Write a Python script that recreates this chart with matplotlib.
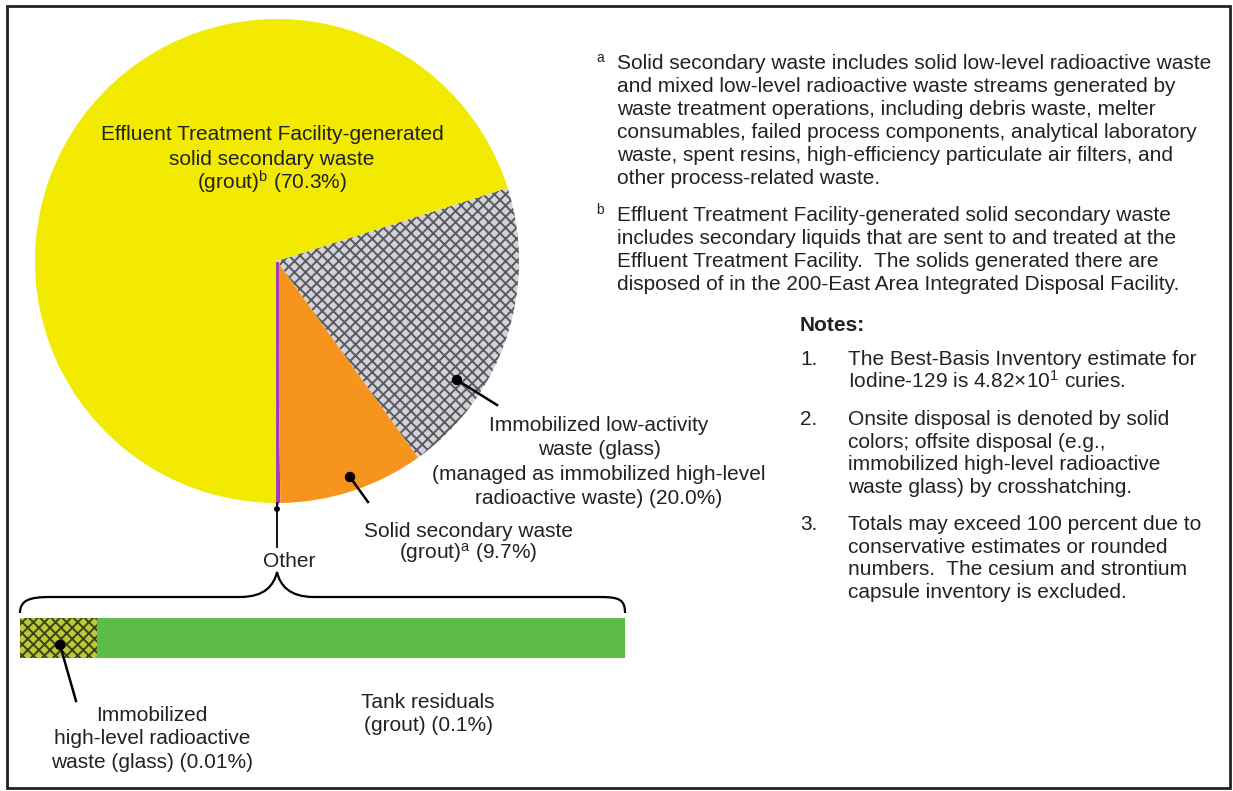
import matplotlib
matplotlib.use("Agg")
import matplotlib.pyplot as plt
from matplotlib.path import Path
from matplotlib.patches import PathPatch, Rectangle, Circle

# ---------------- data ----------------
pie_names = ["Other", "Solid secondary waste", "Immobilized low-activity waste", "ETF solid secondary waste"]
pie_values = [0.11, 9.7, 20.0, 70.3]
pie_colors = ["#9933CC", "#F7941E", "#D2D2DC", "#F2EA00"]
pie_hatches = [None, None, "xxx", None]

other_names = ["Immobilized high-level radioactive waste (glass)", "Tank residuals (grout)"]
other_values = [0.014, 0.096]
other_colors = ["#BCC83C", "#5DBB47"]
other_hatches = ["xxx", None]

label_etf = ["Effluent Treatment Facility-generated", "solid secondary waste",
             "(grout)$^{\\mathrm{b}}$ (70.3%)"]
label_ilaw = ["Immobilized low-activity", "waste (glass)",
              "(managed as immobilized high-level", "radioactive waste) (20.0%)"]
label_ssw = ["Solid secondary waste", "(grout)$^{\\mathrm{a}}$ (9.7%)"]
label_other = ["Other"]
label_ihlw = ["Immobilized", "high-level radioactive", "waste (glass) (0.01%)"]
label_tank = ["Tank residuals", "(grout) (0.1%)"]

foot_a = ["Solid secondary waste includes solid low-level radioactive waste",
          "and mixed low-level radioactive waste streams generated by",
          "waste treatment operations, including debris waste, melter",
          "consumables, failed process components, analytical laboratory",
          "waste, spent resins, high-efficiency particulate air filters, and",
          "other process-related waste."]
foot_b = ["Effluent Treatment Facility-generated solid secondary waste",
          "includes secondary liquids that are sent to and treated at the",
          "Effluent Treatment Facility.  The solids generated there are",
          "disposed of in the 200-East Area Integrated Disposal Facility."]
notes = [
    ["The Best-Basis Inventory estimate for", "Iodine-129 is 4.82\u00d710$^{1}$ curies."],
    ["Onsite disposal is denoted by solid", "colors; offsite disposal (e.g.,",
     "immobilized high-level radioactive", "waste glass) by crosshatching."],
    ["Totals may exceed 100 percent due to", "conservative estimates or rounded",
     "numbers.  The cesium and strontium", "capsule inventory is excluded."],
]

# ---------------- style ----------------
plt.rcParams["font.family"] = ["Liberation Sans", "DejaVu Sans"]
plt.rcParams["mathtext.fontset"] = "custom"
plt.rcParams["mathtext.rm"] = "Liberation Sans"
plt.rcParams["mathtext.it"] = "Liberation Sans:italic"
plt.rcParams["mathtext.bf"] = "Liberation Sans:bold"
plt.rcParams["hatch.linewidth"] = 1.4

W, H = 1233, 791
fig = plt.figure(figsize=(W / 100, H / 100), dpi=100)
fig.patch.set_facecolor("white")
ax = fig.add_axes([0, 0, 1, 1])


def P(x, y):
    return x, H - y


FS = 15
TXT = "#222222"


def lines(x, y0, step, texts, ha="center", fontweight="normal", fontsize=FS):
    for i, t in enumerate(texts):
        ax.text(*P(x, y0 + i * step), t, ha=ha, va="baseline", fontsize=fontsize,
                color=TXT, fontweight=fontweight, zorder=8)


# ---------------- pie ----------------
wedges, _ = ax.pie(pie_values, colors=pie_colors, startangle=-89.6, counterclock=True,
                   center=P(277, 261), radius=242, wedgeprops=dict(linewidth=0))
for w, h in zip(wedges, pie_hatches):
    if h:
        w.set_hatch(h)
        w.set_edgecolor("#5A5A5A")
        w.set_linewidth(0)
ax.plot(*zip(P(277, 263), P(277, 503)), color="#9933CC", lw=2, zorder=3)

ax.set_xlim(0, W)
ax.set_ylim(0, H)
ax.set_aspect("auto")
ax.axis("off")

# pie labels
lines(272, 140, 25, label_etf)
lines(599, 431, 24.4, label_ilaw)
lines(468, 537, 22, label_ssw)
lines(289, 567, 0, label_other)


# leader lines with dots
def leader(x0, y0, x1, y1):
    ax.plot(*zip(P(x0, y0), P(x1, y1)), color="black", lw=1.8, zorder=5)
    ax.add_patch(Circle(P(x0, y0), 4.5, color="black", zorder=6))


leader(457, 380, 497, 405)
leader(350, 477, 368, 502)
leader(60, 645, 76, 701)

# line from "other" wedge down to label
ax.plot(*zip(P(277, 503), P(277, 547)), color="black", lw=1.3, zorder=4)
ax.add_patch(Circle(P(277, 509), 2.2, color="black", zorder=6))

# brace
verts = [P(20, 613), P(20, 600), P(30, 597), P(50, 597),
         P(240, 597),
         P(265, 597), P(274, 585), P(277, 572),
         P(280, 585), P(289, 597), P(314, 597),
         P(600, 597),
         P(620, 597), P(625, 600), P(625, 613)]
codes = [Path.MOVETO, Path.CURVE4, Path.CURVE4, Path.CURVE4,
         Path.LINETO,
         Path.CURVE4, Path.CURVE4, Path.CURVE4,
         Path.CURVE4, Path.CURVE4, Path.CURVE4,
         Path.LINETO,
         Path.CURVE4, Path.CURVE4, Path.CURVE4]
ax.add_patch(PathPatch(Path(verts, codes), facecolor="none", edgecolor="black", lw=1.6, zorder=4))

# ---------------- "Other" bar ----------------
bx0, bx1, by0, by1 = 20, 625, 618, 658
bax = fig.add_axes([bx0 / W, (H - by1) / H, (bx1 - bx0) / W, (by1 - by0) / H])
left = 0
for v, c, h in zip(other_values, other_colors, other_hatches):
    b = bax.barh(0, v, left=left, height=1, color=c, linewidth=0)
    if h:
        b[0].set_hatch(h)
        b[0].set_edgecolor("#3B4512")
        b[0].set_linewidth(0)
    left += v
bax.set_xlim(0, sum(other_values))
bax.set_ylim(-0.5, 0.5)
bax.axis("off")
ax.set_zorder(2)
ax.patch.set_visible(False)

lines(152, 721, 23.5, label_ihlw)
lines(428, 708, 23, label_tank)

# ---------------- footnotes ----------------
ax.text(*P(596, 62), "a", ha="left", va="baseline", fontsize=10, color=TXT)
lines(617, 69, 23, foot_a, ha="left")
ax.text(*P(596, 214), "b", ha="left", va="baseline", fontsize=10, color=TXT)
lines(617, 221, 23, foot_b, ha="left")

lines(800, 331, 0, ["Notes:"], ha="left", fontweight="bold")
note_y = [365, 425, 530]
for i, (t, y) in enumerate(zip(notes, note_y)):
    lines(800, y, 0, [f"{i + 1}."], ha="left")
    lines(848, y, 22.7, t, ha="left")

# ---------------- frame ----------------
ax.add_patch(Rectangle(P(7, 788), 1223, 782, facecolor="none", edgecolor="#222222", lw=2, zorder=10))

fig.savefig("out.png", dpi=100, facecolor="white")
